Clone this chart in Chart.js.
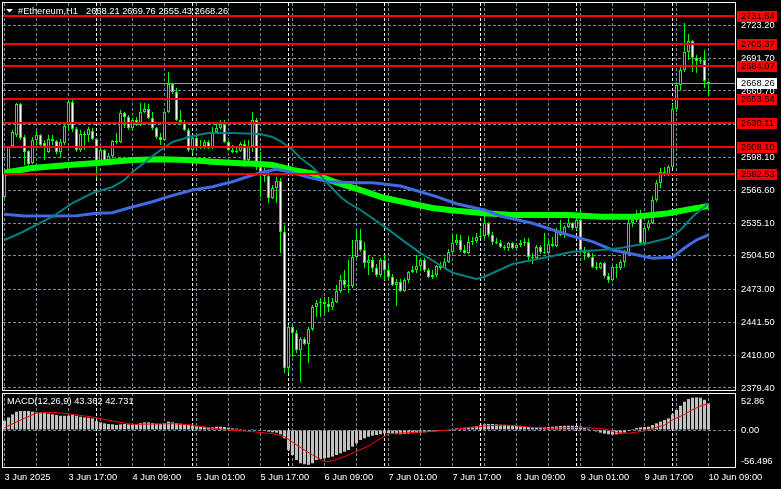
<!DOCTYPE html>
<html><head><meta charset="utf-8">
<script src="https://cdn.jsdelivr.net/npm/chart.js@4.4.1/dist/chart.umd.min.js"></script>
<style>
html,body{margin:0;padding:0;background:#000;overflow:hidden;}
#wrap{position:relative;width:781px;height:489px;background:#000;}
canvas{position:absolute;left:0;}
#c1{top:0;}
#c2{top:391px;}
</style></head><body>
<div id="wrap"><canvas id="c1" width="781" height="392"></canvas><canvas id="c2" width="781" height="98"></canvas></div>
<script>
// ---------------- data ----------------
const symbolTitle = '#Ethereum,H1';
const titleOHLC = ['2668.21', '2669.76', '2655.43', '2668.26'];

// hourly candles, 3 Jun 01:00 ... 10 Jun 09:00
const opens = [2560.3,2584.0,2608.6,2619.0,2648.4,2617.1,2603.9,2592.5,2614.3,2619.0,2611.4,2602.9,2615.2,2613.3,2602.9,2611.4,2628.5,2650.3,2624.7,2604.8,2620.0,2619.0,2622.8,2615.2,2590.6,2604.8,2592.5,2599.1,2613.3,2612.4,2639.9,2636.1,2625.6,2633.2,2628.5,2640.8,2643.6,2635.1,2625.6,2617.1,2614.3,2640.8,2667.3,2659.7,2633.2,2631.3,2623.8,2604.8,2616.2,2606.7,2608.6,2612.4,2606.7,2621.9,2625.6,2629.4,2612.4,2604.8,2602.9,2603.9,2610.5,2595.3,2608.6,2633.2,2588.7,2584.0,2580.2,2559.3,2568.8,2575.5,2527.1,2398.3,2437.2,2431.5,2415.4,2425.8,2421.1,2435.3,2456.1,2459.9,2460.9,2459.0,2456.1,2460.9,2471.3,2481.7,2477.0,2476.0,2503.5,2519.6,2510.1,2497.8,2500.6,2493.0,2486.4,2500.6,2491.2,2484.5,2477.0,2479.8,2471.3,2481.7,2489.3,2491.2,2494.9,2500.6,2491.2,2484.5,2486.4,2494.9,2493.0,2498.7,2508.2,2516.7,2519.6,2510.1,2507.3,2517.7,2518.6,2522.4,2523.4,2535.7,2524.3,2517.7,2516.7,2512.9,2512.0,2516.7,2512.0,2514.8,2516.7,2517.7,2503.5,2502.5,2512.9,2508.2,2507.3,2515.8,2513.9,2527.1,2524.3,2531.9,2535.7,2530.9,2538.5,2510.1,2507.3,2503.5,2494.0,2493.0,2497.8,2485.5,2481.7,2494.0,2493.0,2498.7,2507.3,2535.7,2538.5,2544.2,2516.7,2530.9,2535.7,2557.5,2573.5,2584.0,2581.2,2588.7,2643.6,2666.4,2680.6,2697.6,2708.0,2692.1,2689.1,2690.1,2668.21];
const highs = [2584.9,2608.6,2623.8,2649.3,2649.3,2619.0,2604.8,2617.1,2623.8,2620.0,2614.3,2619.0,2619.0,2614.3,2615.2,2628.5,2653.1,2652.2,2626.6,2623.8,2622.8,2626.6,2625.6,2616.2,2606.7,2605.8,2602.0,2614.3,2620.9,2642.7,2640.8,2638.0,2635.1,2636.1,2649.3,2649.3,2648.4,2640.8,2626.6,2620.9,2641.8,2678.7,2668.3,2663.5,2642.7,2633.2,2625.6,2619.0,2619.0,2614.3,2614.3,2614.3,2626.6,2630.4,2633.2,2633.2,2614.3,2609.5,2608.6,2612.4,2614.3,2614.3,2640.8,2635.1,2602.9,2587.8,2585.9,2571.6,2579.2,2578.3,2533.8,2439.0,2439.0,2434.3,2427.7,2427.7,2437.2,2458.0,2462.7,2464.6,2465.6,2465.6,2464.6,2477.0,2486.4,2491.2,2500.6,2519.6,2529.0,2530.0,2517.7,2505.4,2503.5,2496.8,2502.5,2505.4,2494.9,2487.4,2482.6,2482.6,2483.6,2490.2,2494.9,2505.4,2502.5,2502.5,2493.0,2491.2,2495.9,2498.7,2502.5,2511.0,2524.3,2525.2,2524.3,2514.8,2523.4,2522.4,2526.2,2530.9,2543.2,2536.6,2527.1,2521.5,2519.6,2514.8,2517.7,2517.7,2516.7,2519.6,2521.5,2521.5,2507.3,2514.8,2514.8,2526.2,2519.6,2522.4,2530.9,2538.5,2533.8,2540.4,2536.6,2540.4,2548.0,2512.9,2510.1,2507.3,2498.7,2498.7,2498.7,2488.3,2495.9,2496.8,2500.6,2510.1,2540.4,2543.2,2548.0,2548.0,2532.8,2538.5,2561.2,2576.4,2587.8,2588.7,2590.6,2648.4,2669.2,2684.4,2725.1,2714.7,2708.9,2694.8,2692.9,2699.5,2669.76];
const lows = [2559.0,2583.0,2606.7,2617.1,2614.3,2590.6,2588.7,2591.5,2609.5,2607.6,2595.3,2602.0,2609.5,2601.0,2597.2,2609.5,2623.8,2621.9,2602.9,2602.9,2604.8,2612.4,2614.3,2578.3,2589.6,2591.5,2590.6,2597.2,2610.5,2611.4,2625.6,2623.8,2623.8,2627.5,2627.5,2639.9,2634.2,2623.8,2615.2,2609.5,2613.3,2639.9,2657.8,2632.3,2628.5,2622.8,2602.9,2602.0,2604.8,2605.8,2605.8,2605.8,2605.8,2620.0,2623.8,2611.4,2603.9,2602.0,2602.0,2602.9,2588.7,2594.4,2602.9,2585.9,2560.3,2574.5,2554.6,2558.4,2554.6,2507.3,2393.6,2393.6,2408.8,2412.5,2385.1,2420.1,2403.1,2433.4,2446.6,2446.6,2450.4,2451.4,2453.3,2459.9,2469.4,2474.1,2469.4,2474.1,2502.5,2508.2,2493.0,2486.4,2489.3,2484.5,2484.5,2481.7,2481.7,2476.0,2457.1,2470.3,2470.3,2478.8,2488.3,2488.3,2490.2,2489.3,2483.6,2482.6,2484.5,2491.2,2492.1,2497.8,2507.3,2514.8,2508.2,2506.3,2506.3,2514.8,2516.7,2521.5,2521.5,2522.4,2514.8,2515.8,2512.0,2510.1,2509.2,2511.0,2511.0,2512.9,2513.9,2500.6,2496.8,2501.5,2506.3,2506.3,2506.3,2512.9,2512.9,2523.4,2521.5,2530.9,2529.0,2529.0,2507.3,2500.6,2502.5,2493.0,2491.2,2492.1,2483.6,2478.8,2480.7,2483.6,2491.2,2494.0,2506.3,2531.9,2536.6,2514.8,2515.8,2529.0,2534.7,2555.6,2568.8,2580.2,2580.2,2587.8,2640.8,2661.6,2678.7,2690.1,2678.7,2677.7,2686.3,2663.5,2655.43];
const closes = [2583.0,2607.6,2621.9,2648.4,2616.2,2602.9,2591.5,2614.3,2619.0,2609.5,2608.6,2615.2,2613.3,2602.9,2612.4,2627.5,2650.3,2624.7,2604.8,2620.0,2619.0,2624.7,2615.2,2590.6,2604.8,2592.5,2599.1,2613.3,2612.4,2639.9,2636.1,2625.6,2633.2,2628.5,2640.8,2643.6,2635.1,2625.6,2617.1,2614.3,2640.8,2667.3,2659.7,2633.2,2631.3,2623.8,2604.8,2616.2,2606.7,2608.6,2612.4,2606.7,2621.9,2625.6,2629.4,2612.4,2604.8,2602.9,2603.9,2610.5,2595.3,2608.6,2633.2,2588.7,2584.0,2580.2,2559.3,2568.8,2575.5,2527.1,2398.3,2437.2,2431.5,2415.4,2425.8,2421.1,2435.3,2456.1,2459.9,2460.9,2459.0,2456.1,2460.9,2471.3,2481.7,2477.0,2476.0,2503.5,2519.6,2510.1,2497.8,2500.6,2493.0,2486.4,2500.6,2491.2,2484.5,2477.0,2479.8,2471.3,2481.7,2489.3,2491.2,2494.9,2500.6,2491.2,2484.5,2486.4,2494.9,2493.0,2498.7,2508.2,2516.7,2519.6,2510.1,2507.3,2517.7,2518.6,2522.4,2523.4,2535.7,2524.3,2517.7,2516.7,2512.9,2512.0,2516.7,2512.0,2514.8,2516.7,2517.7,2503.5,2502.5,2512.9,2508.2,2507.3,2515.8,2513.9,2527.1,2524.3,2531.9,2535.7,2530.9,2538.5,2510.1,2507.3,2503.5,2494.0,2493.0,2497.8,2485.5,2481.7,2494.0,2493.0,2498.7,2507.3,2535.7,2538.5,2544.2,2516.7,2530.9,2535.7,2557.5,2573.5,2584.0,2581.2,2588.7,2643.6,2666.4,2680.6,2697.6,2708.0,2692.1,2689.1,2690.1,2670.2,2668.26];

// moving averages (bar index, value) read at intervals
const maFastIdx = [0,4,12,17,22,27,30,32,38,42,47,51,57,64,67,69,72,74,77,80,84,86,89,95,100,104,108,112,118,120,127,137,142,149,154,161,166,169,172,175,176];
const maFastVal = [2519.6,2526.2,2541.6,2554.6,2564.1,2569.8,2576.4,2584.0,2602.0,2612.4,2618.1,2620.9,2620.9,2620.0,2617.1,2613.3,2604.8,2597.2,2588.7,2576.4,2560.3,2554.6,2548.0,2532.2,2518.0,2507.2,2497.8,2488.6,2482.6,2484.8,2496.8,2504.4,2508.5,2510.1,2512.0,2516.7,2521.5,2529.0,2541.6,2551.1,2554.6];
const maMidIdx = [0,5,12,18,23,27,31,37,41,47,52,57,62,65,68,71,76,81,88,92,99,105,108,113,120,124,132,141,147,152,157,162,167,170,173,176];
const maMidVal = [2543.9,2542.3,2542.3,2542.6,2544.9,2545.4,2549.9,2555.8,2560.6,2566.9,2570.0,2574.8,2581.1,2584.3,2586.5,2584.3,2578.9,2574.8,2573.8,2573.8,2570.7,2564.1,2560.6,2553.9,2548.0,2542.3,2535.4,2524.3,2518.0,2510.1,2506.3,2502.2,2503.2,2512.0,2519.6,2524.3];
const maSlowIdx = [0,7,16,24,32,39,46,52,59,64,67,72,77,82,89,95,101,107,113,120,127,132,141,149,157,162,166,171,176];
const maSlowVal = [2583.3,2587.8,2590.6,2592.8,2595.3,2596.0,2595.3,2593.7,2592.2,2591.5,2590.6,2585.9,2582.7,2575.4,2566.9,2559.3,2554.6,2549.9,2547.3,2544.9,2543.2,2543.2,2543.2,2541.6,2541.6,2543.2,2544.9,2548.6,2551.8];

// horizontal levels
const levels = [2731.64, 2705.37, 2684.07, 2653.54, 2630.11, 2608.10, 2582.53];
const lastPrice = 2668.26;
const priceTicks = [2379.40, 2410.00, 2441.50, 2473.00, 2504.50, 2535.10, 2566.60, 2598.10, 2629.40, 2660.70, 2691.70, 2723.20];

// MACD(12,26,9)
const macdHist = [15.1,20.5,25.4,29.7,30.8,30.8,30.8,29.7,28.6,28.6,27.5,26.5,25.4,24.3,23.2,23.2,23.2,24.3,23.2,21.6,20.5,20.0,18.9,14.6,12.4,10.8,9.7,9.2,8.1,9.2,9.7,9.2,9.2,9.7,11.3,12.4,12.4,11.3,10.3,9.7,11.3,13.5,12.4,11.3,10.3,9.2,8.1,7.0,5.9,5.9,4.9,4.3,4.3,5.4,5.4,4.9,3.8,2.7,2.2,1.6,0.5,1.1,1.6,0.5,-1.1,-1.6,-2.7,-3.8,-4.3,-7.0,-13.5,-32.4,-40.5,-48.6,-54.0,-55.6,-56.5,-54.0,-48.6,-47.0,-45.9,-44.8,-43.2,-40.5,-37.8,-35.1,-32.4,-27.0,-21.6,-16.2,-13.5,-10.8,-9.2,-8.1,-7.0,-5.4,-5.4,-6.5,-6.8,-7.0,-6.5,-5.9,-5.4,-4.9,-4.3,-3.8,-3.2,-2.7,-2.2,-1.6,-0.5,0.5,1.6,2.7,3.2,3.8,4.3,5.4,6.5,7.6,9.2,9.7,9.7,9.2,8.6,8.1,7.6,7.0,6.5,5.9,5.4,4.9,4.3,4.3,4.3,4.3,4.9,5.4,5.9,6.5,7.0,7.0,7.0,6.5,5.9,3.8,2.2,0.5,-2.2,-4.3,-5.9,-7.0,-7.6,-7.0,-5.9,-4.3,-1.6,1.6,3.2,4.3,4.9,5.4,8.1,10.8,13.5,16.2,18.9,25.4,32.4,39.4,45.9,50.2,52.4,52.86,52.4,49.0,43.362];
const signalIdx = [0,4,8,12,17,22,27,32,37,42,47,52,57,62,67,70,73,77,80,82,86,91,96,101,106,111,116,121,125,128,131,136,141,146,150,153,156,160,162,165,167,170,172,174,176];
const signalVal = [3.8,16.2,27.5,28.6,25.4,21.1,14.6,9.2,9.7,10.3,8.1,2.7,-0.5,-2.7,-5.9,-10.8,-24.3,-40.5,-51.3,-50.2,-40.5,-25.9,-6.0,-4.3,-2.7,0.0,3.8,7.0,8.1,7.0,4.9,2.7,3.8,3.8,1.6,-4.3,-5.4,-1.6,2.7,8.1,16.2,25.4,33.0,39.0,42.731];
const macdTicks = [-56.496, 0, 52.86];
const macdText = 'MACD(12,26,9) 43.362 42.731';

// time axis
const timeLabels = ['3 Jun 2025','3 Jun 17:00','4 Jun 09:00','5 Jun 01:00','5 Jun 17:00','6 Jun 09:00','7 Jun 01:00','7 Jun 17:00','8 Jun 09:00','9 Jun 01:00','9 Jun 17:00','10 Jun 09:00'];
const midnightBars = [23, 47, 71, 95, 119, 143, 167];
const gridBars = [0,8,16,24,32,40,48,56,64,72,80,88,96,104,112,120,128,136,144,152,160,168,176];

// ---------------- styling ----------------
const FONT = 'Liberation Sans';
const FS = 9.3;
const GRID = '#778899';
const LIME = '#00ff00';
const X_MIN = -0.375, X_MAX = 182.625;
const Y_MIN = 2376.55, Y_MAX = 2744.04;
Chart.defaults.font.family = FONT;
Chart.defaults.font.size = FS;

const zeroPad = s => { s.paddingLeft = 0; s.paddingRight = 0; s.paddingTop = 0; s.paddingBottom = 0; };

const wicks = lows.map((l, i) => ({x: i, y: [l, highs[i]]}));
const bodies = opens.map((o, i) => ({x: i, y: [o, closes[i]]}));
const bodyFill = opens.map((o, i) => closes[i] >= o ? '#000000' : '#ffffff');

function vLines(chart) {
  const {ctx, chartArea: a, scales: {x}} = chart;
  ctx.save();
  ctx.beginPath(); ctx.rect(a.left, a.top, a.right - a.left, a.bottom - a.top); ctx.clip();
  ctx.lineWidth = 1;
  ctx.strokeStyle = GRID; ctx.setLineDash([3, 2]);
  gridBars.forEach(b => {
    const xx = Math.floor(x.getPixelForValue(b)) + 0.5;
    ctx.beginPath(); ctx.moveTo(xx, a.top); ctx.lineTo(xx, a.bottom); ctx.stroke();
  });
  ctx.strokeStyle = '#ffffff'; ctx.setLineDash([3, 2]);
  midnightBars.forEach(b => {
    const xx = Math.floor(x.getPixelForValue(b)) + 0.5;
    ctx.beginPath(); ctx.moveTo(xx, a.top); ctx.lineTo(xx, a.bottom); ctx.stroke();
  });
  ctx.restore();
}

const mainDecor = {
  id: 'mainDecor',
  beforeDatasetsDraw(chart) {
    const {ctx, chartArea: a, scales: {y}} = chart;
    vLines(chart);
    ctx.save();
    const yy = Math.round(y.getPixelForValue(lastPrice)) + 0.5;
    ctx.strokeStyle = '#8f9aa6'; ctx.lineWidth = 1;
    ctx.beginPath(); ctx.moveTo(a.left, yy); ctx.lineTo(a.right, yy); ctx.stroke();
    ctx.restore();
  },
  afterDatasetsDraw(chart) {
    const {ctx, chartArea: a, scales: {y}} = chart;
    ctx.save();
    ctx.fillStyle = '#ff0000';
    levels.forEach(v => {
      const yy = Math.round(y.getPixelForValue(v));
      ctx.fillRect(a.left, yy - 1, a.right - a.left, 2);
    });
    ctx.strokeStyle = '#ffffff'; ctx.lineWidth = 1;
    ctx.strokeRect(a.left - 0.5, a.top - 0.5, a.right - a.left + 1, a.bottom - a.top);
    ctx.font = FS + 'px "' + FONT + '"';
    ctx.textBaseline = 'middle'; ctx.textAlign = 'left';
    levels.forEach(v => {
      const yy = Math.round(y.getPixelForValue(v));
      ctx.fillStyle = '#ff0000';
      ctx.fillRect(a.right + 2, yy - 5, 40, 11);
      ctx.fillStyle = '#000000';
      ctx.fillText(v.toFixed(2), a.right + 6, yy + 0.5);
    });
    const yl = Math.round(y.getPixelForValue(lastPrice));
    ctx.fillStyle = '#ffffff';
    ctx.fillRect(a.right + 2, yl - 5, 40, 11);
    ctx.fillStyle = '#000000';
    ctx.fillText(lastPrice.toFixed(2), a.right + 6, yl + 0.5);
    ctx.fillStyle = '#ffffff';
    ctx.beginPath(); ctx.moveTo(6, 9); ctx.lineTo(13, 9); ctx.lineTo(9.5, 12.5); ctx.closePath(); ctx.fill();
    ctx.fillText(symbolTitle, 18, 11);
    ctx.fillText(titleOHLC.join(' '), 86, 11);
    ctx.restore();
  }
};

new Chart(document.getElementById('c1'), {
  type: 'bar',
  data: {
    datasets: [
      {type: 'line', data: maFastIdx.map((v, k) => ({x: v, y: maFastVal[k]})), borderColor: '#008080', borderWidth: 2, pointRadius: 0, order: 1},
      {type: 'line', data: maMidIdx.map((v, k) => ({x: v, y: maMidVal[k]})), borderColor: '#4169e1', borderWidth: 3, pointRadius: 0, order: 2},
      {type: 'line', data: maSlowIdx.map((v, k) => ({x: v, y: maSlowVal[k]})), borderColor: LIME, borderWidth: 6, pointRadius: 0, order: 3},
      {type: 'bar', data: wicks, backgroundColor: LIME, borderWidth: 0, barThickness: 1, maxBarThickness: 1, grouped: false, inflateAmount: 0, order: 10},
      {type: 'bar', data: bodies, backgroundColor: bodyFill, borderColor: LIME, borderWidth: 1, borderSkipped: false, barThickness: 3, maxBarThickness: 3, minBarLength: 1, grouped: false, inflateAmount: 0, order: 9}
    ]
  },
  options: {
    responsive: false, animation: false, devicePixelRatio: 1, events: [],
    layout: {padding: {left: 3, top: 3, right: 0, bottom: 1}},
    plugins: {legend: {display: false}, tooltip: {enabled: false}},
    scales: {
      x: {
        type: 'linear', min: X_MIN, max: X_MAX, offset: false,
        grid: {display: false, drawTicks: false, offset: false},
        border: {display: false},
        ticks: {display: false},
        afterBuildTicks: s => { s.ticks = gridBars.map(v => ({value: v})); },
        afterFit: s => { s.height = 0; zeroPad(s); }
      },
      y: {
        type: 'linear', position: 'right', min: Y_MIN, max: Y_MAX,
        grid: {color: GRID, lineWidth: 1, drawTicks: false},
        border: {display: false, dash: [3, 2]},
        ticks: {color: '#ffffff', padding: 6, autoSkip: false, callback: v => Number(v).toFixed(2)},
        afterBuildTicks: s => { s.ticks = priceTicks.map(v => ({value: v})); },
        afterFit: s => { s.width = 46; zeroPad(s); }
      }
    }
  },
  plugins: [mainDecor]
});

const macdDecor = {
  id: 'macdDecor',
  beforeDatasetsDraw(chart) { vLines(chart); },
  afterDatasetsDraw(chart) {
    const {ctx, chartArea: a, scales: {y}} = chart;
    ctx.save();
    ctx.strokeStyle = '#ffffff'; ctx.lineWidth = 1;
    ctx.strokeRect(a.left - 0.5, a.top + 0.5, a.right - a.left + 1, a.bottom - a.top - 1);
    ctx.font = FS + 'px "' + FONT + '"';
    ctx.fillStyle = '#ffffff'; ctx.textAlign = 'left';
    ctx.textBaseline = 'middle';
    ctx.fillText(macdText, 7, 10.5);
    const lx = a.right + 6;
    ctx.textBaseline = 'top';
    ctx.fillText(macdTicks[2].toFixed(2), lx, y.getPixelForValue(macdTicks[2]) - 0.5);
    ctx.textBaseline = 'middle';
    ctx.fillText(macdTicks[1].toFixed(2), lx, y.getPixelForValue(macdTicks[1]) + 0.5);
    ctx.textBaseline = 'bottom';
    ctx.fillText(String(macdTicks[0]), lx, y.getPixelForValue(macdTicks[0]) + 1);
    ctx.restore();
  }
};

new Chart(document.getElementById('c2'), {
  type: 'bar',
  data: {
    datasets: [
      {type: 'line', data: signalIdx.map((v, k) => ({x: v, y: signalVal[k]})), borderColor: '#ff0000', borderWidth: 1, pointRadius: 0, order: 1},
      {type: 'bar', data: macdHist.map((v, i) => ({x: i, y: v})), backgroundColor: '#c0c0c0', borderWidth: 0, barThickness: 3, maxBarThickness: 3, grouped: false, inflateAmount: 0, order: 2}
    ]
  },
  options: {
    responsive: false, animation: false, devicePixelRatio: 1, events: [],
    layout: {padding: {left: 3, top: 2, right: 0, bottom: 0}},
    plugins: {legend: {display: false}, tooltip: {enabled: false}},
    scales: {
      x: {
        type: 'linear', min: X_MIN, max: X_MAX, offset: false,
        grid: {display: false, drawTicks: false, offset: false},
        border: {display: false},
        ticks: {color: '#ffffff', padding: 4, align: 'start', maxRotation: 0, minRotation: 0, autoSkip: false,
          callback: v => (v % 16 === 0 ? timeLabels[v / 16] : '')},
        afterBuildTicks: s => { s.ticks = gridBars.map(v => ({value: v})); },
        afterFit: s => { s.height = 21; zeroPad(s); }
      },
      y: {
        type: 'linear', position: 'right', min: -61.6, max: 60.0,
        grid: {color: c => (c.tick && c.tick.value === 0 ? GRID : 'rgba(0,0,0,0)'), lineWidth: 1, drawTicks: false},
        border: {display: false, dash: [3, 2]},
        ticks: {display: false},
        afterBuildTicks: s => { s.ticks = macdTicks.map(v => ({value: v})); },
        afterFit: s => { s.width = 46; zeroPad(s); }
      }
    }
  },
  plugins: [macdDecor]
});
</script>
</body></html>
